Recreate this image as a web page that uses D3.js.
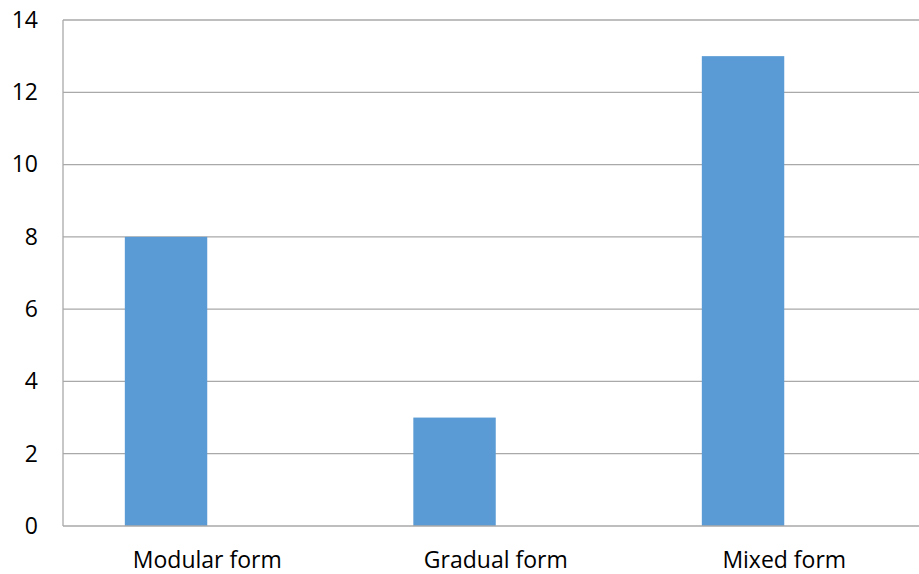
<!DOCTYPE html>
<html>
<head>
<meta charset="utf-8">
<script src="https://cdn.jsdelivr.net/npm/d3@7/dist/d3.min.js"></script>
<style>
  html, body { margin: 0; padding: 0; background: #fff; }
  svg { display: block; }
</style>
</head>
<body>
<svg id="chart" width="919" height="574"></svg>
<script>
// Category names and counts per form
const categories = ["Modular form", "Gradual form", "Mixed form"];
const seriesA = [8, 3, 13];
const seriesB = [0, 0, 0];   // second series (empty)
const yTicks = [0, 2, 4, 6, 8, 10, 12, 14];

const FONT = "'Open Sans', sans-serif";
const plot = { left: 63, right: 928.5, top: 20, bottom: 526 };

const svg = d3.select("#chart");

const x = d3.scaleBand()
  .domain(categories)
  .range([plot.left, plot.right])
  .paddingInner(0)
  .paddingOuter(0);

// two bars per category with a 150% gap between clusters
const barW = x.bandwidth() / 3.5;
const sub = d3.scaleBand()
  .domain(["A", "B"])
  .range([0.75 * barW, 2.75 * barW])
  .padding(0);

const y = d3.scaleLinear().domain([0, 14]).range([plot.bottom, plot.top]);

// horizontal gridlines
svg.append("g")
  .selectAll("line")
  .data(yTicks.filter(d => d > 0))
  .join("line")
  .attr("x1", plot.left)
  .attr("x2", plot.right)
  .attr("y1", d => y(d))
  .attr("y2", d => y(d))
  .attr("stroke", "#a9a9a9")
  .attr("stroke-width", 1.3);

// bars
const rows = categories.map((c, i) => ({ c, a: seriesA[i], b: seriesB[i] }));
svg.append("g")
  .selectAll("rect")
  .data(rows)
  .join("rect")
  .attr("x", d => x(d.c) + sub("A"))
  .attr("width", sub.bandwidth())
  .attr("y", d => y(d.a))
  .attr("height", d => y(0) - y(d.a))
  .attr("fill", "#5b9bd5");

// axis lines
svg.append("line")
  .attr("x1", plot.left).attr("x2", plot.left)
  .attr("y1", plot.top).attr("y2", plot.bottom)
  .attr("stroke", "#a9a9a9").attr("stroke-width", 1.3);
svg.append("line")
  .attr("x1", plot.left).attr("x2", plot.right)
  .attr("y1", plot.bottom).attr("y2", plot.bottom)
  .attr("stroke", "#a9a9a9").attr("stroke-width", 1.3);

// y tick labels
const yAxis = d3.axisLeft(y).tickValues(yTicks).tickSize(0).tickPadding(25);
const gy = svg.append("g").attr("transform", `translate(${plot.left},0)`).call(yAxis);
gy.select(".domain").remove();
gy.selectAll("text")
  .attr("font-size", 23)
  .attr("fill", "#000")
  .attr("font-family", FONT);

// x category labels
const xAxis = d3.axisBottom(x).tickSize(0).tickPadding(0);
const gx = svg.append("g").attr("transform", `translate(0,${plot.bottom})`).call(xAxis);
gx.select(".domain").remove();
gx.selectAll("text")
  .attr("dy", null)
  .attr("y", 42)
  .attr("font-size", 23)
  .attr("fill", "#000")
  .attr("font-family", FONT);
</script>
</body>
</html>
